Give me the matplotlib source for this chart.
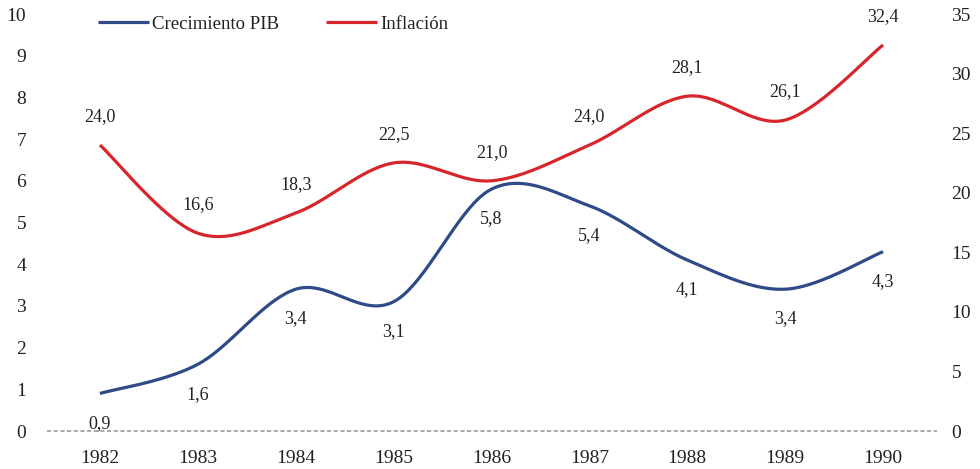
import numpy as np
import matplotlib
matplotlib.use("Agg")
import matplotlib.pyplot as plt
from matplotlib.transforms import blended_transform_factory

years = ["1982", "1983", "1984", "1985", "1986", "1987", "1988", "1989", "1990"]
pib = [0.9, 1.6, 3.4, 3.1, 5.8, 5.4, 4.1, 3.4, 4.3]
inflacion = [24.0, 16.6, 18.3, 22.5, 21.0, 24.0, 28.1, 26.1, 32.4]
left_ticks = list(range(0, 11))
right_ticks = list(range(0, 36, 5))

BLUE = "#2E4A87"
RED = "#D7262B"
TXT = "#222222"

plt.rcParams['font.family'] = ['Liberation Serif', 'DejaVu Serif']


def smooth(xs, ys, n=40):
    xs = np.asarray(xs, float)
    ys = np.asarray(ys, float)
    px = np.concatenate([[xs[0]], xs, [xs[-1]]])
    py = np.concatenate([[ys[0]], ys, [ys[-1]]])
    outx, outy = [], []
    t = np.linspace(0, 1, n)
    for i in range(1, len(px) - 2):
        p0 = np.array([px[i], py[i]])
        p3 = np.array([px[i + 1], py[i + 1]])
        c1 = p0 + (np.array([px[i + 1], py[i + 1]]) - np.array([px[i - 1], py[i - 1]])) / 6
        c2 = p3 - (np.array([px[i + 2], py[i + 2]]) - np.array([px[i], py[i]])) / 6
        b = ((1 - t) ** 3)[:, None] * p0 + (3 * (1 - t) ** 2 * t)[:, None] * c1 + \
            (3 * (1 - t) * t ** 2)[:, None] * c2 + (t ** 3)[:, None] * p3
        outx.extend(b[:, 0]); outy.extend(b[:, 1])
    return outx, outy


fig = plt.figure(figsize=(9.8, 4.69), dpi=100)
ax = fig.add_axes([51 / 980, 1 - 431 / 469, (932 - 51) / 980, (431 - 14) / 469])
ax2 = ax.twinx()

x = np.arange(len(years))

ax.set_xlim(-0.5, len(years) - 0.5)
ax.set_ylim(0, 10)
ax2.set_ylim(0, 35)
trans = blended_transform_factory(ax2.transAxes, ax2.transData)
ax2.plot([-0.005, 1.006], [0, 0], transform=trans, color="#9C9C9C", lw=1.2,
         ls=(0, (2.5, 1.5)), zorder=1, clip_on=False)

sx, sy = smooth(x, pib)
l1, = ax.plot(sx, sy, color=BLUE, lw=2.3, solid_capstyle='butt', label="Crecimiento PIB")
sx2, sy2 = smooth(x, inflacion)
l2, = ax2.plot(sx2, sy2, color=RED, lw=2.3, solid_capstyle='butt', label="Inflación")

ax.set_xticks(x)
ax.set_xticklabels(years)
ax.set_yticks(left_ticks)
ax2.set_yticks(right_ticks)
for a in (ax, ax2):
    for s in a.spines.values():
        s.set_visible(False)
    a.tick_params(length=0, labelsize=14, colors=TXT)
ax.tick_params(axis='x', pad=14)
ax.tick_params(axis='y', pad=18)
ax2.tick_params(axis='y', pad=14)

for xi, v in zip(x, pib):
    ax.annotate(f"{v:.1f}".replace(".", ","), (xi, v), xytext=(0, -21.5),
                textcoords="offset points", ha="center", va="center", fontsize=13, color=TXT)
for xi, v in zip(x, inflacion):
    ax2.annotate(f"{v:.1f}".replace(".", ","), (xi, v), xytext=(0, 20.5),
                 textcoords="offset points", ha="center", va="center", fontsize=13, color=TXT)

fig.legend(handles=[l1, l2], loc="center left", bbox_to_anchor=(98 / 980, 1 - 24 / 469),
           ncol=2, frameon=False, fontsize=13.5, handlelength=2.7, handletextpad=0.2,
           columnspacing=2.5, labelcolor=TXT, borderpad=0, borderaxespad=0)

fig.savefig("out.png", dpi=100)
